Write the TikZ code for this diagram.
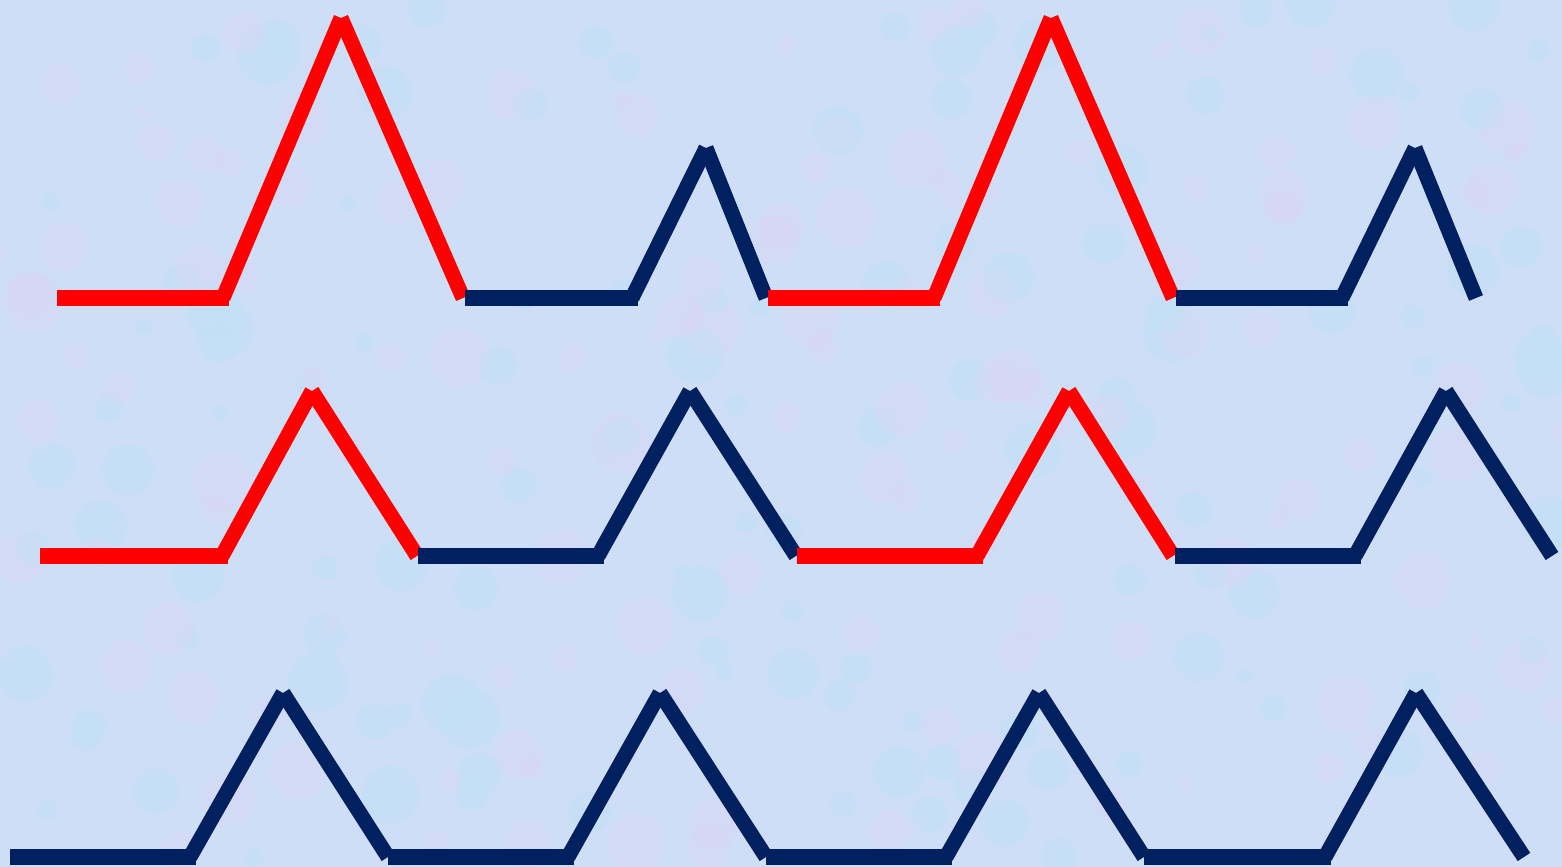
\documentclass[tikz,border=0pt]{standalone}
\usetikzlibrary{calc}

\definecolor{bgblue}{RGB}{205,222,246}
\definecolor{bgpink}{RGB}{222,212,245}
\definecolor{bgcyan}{RGB}{190,226,246}
\definecolor{navy}{RGB}{0,32,96}
\definecolor{pulsered}{RGB}{255,0,0}

\tikzset{
  wave/.style={line width=0.15cm, line cap=butt},
  blob/.style={opacity=0.35}
}

\begin{document}
\begin{tikzpicture}[x=0.01cm, y=-0.01cm]

		% --- Background ---
		\useasboundingbox (0,0) rectangle (1562,867);
		\begin{scope}
			\clip (0,0) rectangle (1562,867);
			\fill[bgblue] (0,0) rectangle (1562,867);
			\pgfmathsetseed{7}
			\foreach \i in {1,...,260}{
				\pgfmathsetmacro{\bx}{random(0,1562)}
				\pgfmathsetmacro{\by}{random(0,867)}
				\pgfmathsetmacro{\br}{random(8,30)}
				\pgfmathtruncatemacro{\bc}{random(1,2)}
				\ifnum\bc=1 \fill[bgpink, blob] (\bx,\by) circle (\br);
				\else \fill[bgcyan, blob] (\bx,\by) circle (\br); \fi
			}
		\end{scope}

		% Baselines of the three rows
		\def\yone{298}
		\def\ytwo{556}
		\def\ythree{857}

		% Peak heights
		\def\ptall{18}
		\def\plow{148}
		\def\pmid{391}
		\def\pbot{693}

		% --- Pulses: name / start / kink / peak / end / base / top / colour ---
		\foreach \n/\xs/\xk/\xp/\xe/\yb/\yp/\col in {
			ra/57/223/341/463/\yone/\ptall/pulsered,
			rb/465/632/706/766/\yone/\plow/navy,
			rc/768/934/1051/1173/\yone/\ptall/pulsered,
			rd/1176/1342/1415/1476/\yone/\plow/navy,
			sa/40/222/312/417/\ytwo/\pmid/pulsered,
			sb/418/598/690/796/\ytwo/\pmid/navy,
			sc/797/977/1069/1173/\ytwo/\pmid/pulsered,
			sd/1175/1355/1446/1552/\ytwo/\pmid/navy,
			ta/10/190/283/388/\ythree/\pbot/navy,
			tb/388/568/660/766/\ythree/\pbot/navy,
			tc/766/946/1039/1144/\ythree/\pbot/navy,
			td/1144/1325/1416/1524/\ythree/\pbot/navy}
		{
			\coordinate (\n s) at (\xs,\yb);
			\coordinate (\n h) at (\xk+6,\yb);
			\coordinate (\n k) at (\xk,\yb);
			\coordinate (\n p) at (\xp,\yp);
			\coordinate (\n e) at (\xe,\yb);
			\draw[wave, \col] (\n s) -- (\n h);
			\draw[wave, \col] (\n k) -- (\n p);
			\draw[wave, \col] (\n p) -- (\n e);
		}

	\end{tikzpicture}
\end{document}
